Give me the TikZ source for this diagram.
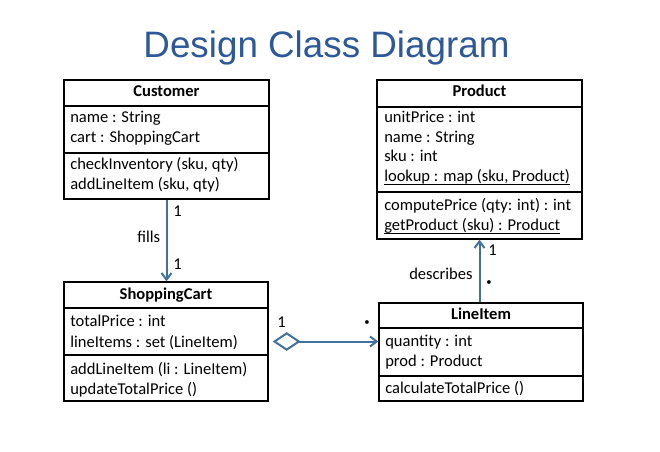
\documentclass[tikz,border=0pt]{standalone}
\usepackage{fontspec}
\setmainfont{Carlito}
\newfontfamily\titlefont{Liberation Sans}
\usetikzlibrary{arrows.meta,fit}
\definecolor{titleblue}{RGB}{45,89,152}
\definecolor{linkblue}{RGB}{65,113,156}
\newcommand\ulin[1]{\underline{\smash{#1}}}
\begin{document}
\begin{tikzpicture}[x=0.75pt,y=-0.75pt,
  classbox/.style={draw=black,line width=1pt,inner sep=0pt},
  divider/.style={draw=black,line width=1pt},
  txt/.style={inner sep=0pt,anchor=base west,font=\fontsize{12.4}{14}\selectfont},
  hdr/.style={inner sep=0pt,anchor=base,font=\fontsize{12.4}{14}\selectfont\bfseries},
  mult/.style={inner sep=0pt,anchor=base west,font=\fontsize{12.4}{14}\selectfont},
  dotmark/.style={inner sep=0pt,anchor=center,font=\fontsize{8}{10}\selectfont},
  link/.style={draw=linkblue,line width=1.5pt},
  tip/.style={-{Straight Barb[length=5pt,width=7.5pt]}}
]
\useasboundingbox[fill=white] (0,0) rectangle (660,452);

% title
\node[inner sep=0pt,anchor=base,text=titleblue,font=\titlefont\fontsize{27.6}{30}\selectfont] (title) at (326.5,58) {Design Class Diagram};

% Customer
\coordinate (c1) at (64,80); \coordinate (c2) at (269,199);
\node[classbox,fit=(c1)(c2)] (cust) {};
\draw[divider] (cust.west |- 0,106) -- (cust.east |- 0,106);
\draw[divider] (cust.west |- 0,153) -- (cust.east |- 0,153);
\node[hdr] (custh) at (166.5,97) {Customer};
\node[txt] (custa1) at (70,123) {name : String};
\node[txt] (custa2) at (70,143) {cart : ShoppingCart};
\node[txt] (custm1) at (70,170) {checkInventory (sku, qty)};
\node[txt] (custm2) at (70,190) {addLineItem (sku, qty)};

% Product
\coordinate (p1) at (377,80); \coordinate (p2) at (582,239);
\node[classbox,fit=(p1)(p2)] (prod) {};
\draw[divider] (prod.west |- 0,107) -- (prod.east |- 0,107);
\draw[divider] (prod.west |- 0,192) -- (prod.east |- 0,192);
\node[hdr] (prodh) at (479.5,97) {Product};
\node[txt] (proda1) at (384,123) {unitPrice : int};
\node[txt] (proda2) at (384,143) {name : String};
\node[txt] (proda3) at (384,162) {sku : int};
\node[txt] (proda4) at (384,182) {\ulin{lookup : map (sku, Product)}};
\node[txt] (prodm1) at (384,211) {computePrice (qty: int) : int};
\node[txt] (prodm2) at (384,231) {\ulin{getProduct (sku) : Product}};

% ShoppingCart
\coordinate (s1) at (64,282); \coordinate (s2) at (268,401);
\node[classbox,fit=(s1)(s2)] (sc) {};
\draw[divider] (sc.west |- 0,308) -- (sc.east |- 0,308);
\draw[divider] (sc.west |- 0,355) -- (sc.east |- 0,355);
\node[hdr] (sch) at (166,300) {ShoppingCart};
\node[txt] (sca1) at (70,326) {totalPrice : int};
\node[txt] (sca2) at (70,347) {lineItems : set (LineItem)};
\node[txt] (scm1) at (70,374) {addLineItem (li : LineItem)};
\node[txt] (scm2) at (70,394) {updateTotalPrice ()};

% LineItem
\coordinate (l1) at (379,303); \coordinate (l2) at (583,401);
\node[classbox,fit=(l1)(l2)] (li) {};
\draw[divider] (li.west |- 0,328) -- (li.east |- 0,328);
\draw[divider] (li.west |- 0,376) -- (li.east |- 0,376);
\node[hdr] (lih) at (481,320) {LineItem};
\node[txt] (lia1) at (385,346) {quantity : int};
\node[txt] (lia2) at (385,366) {prod : Product};
\node[txt] (lim1) at (385,393) {calculateTotalPrice ()};

% connectors
\draw[link,tip] (cust.south) -- (sc.north -| cust.south);
\draw[link,tip] (li.north -| prod.south) -- (prod.south);
\draw[link,{Diamond[open,length=21pt,width=14pt]}-{Straight Barb[length=5pt,width=7.5pt]},shorten <=3pt] (sc.east) -- (sc.east -| li.west);

% labels
\node[mult] (m1) at (173,217) {1};
\node[mult] (fills) at (137,243) {fills};
\node[mult] (m2) at (173,270) {1};
\node[mult] (desc) at (409,279) {describes};
\node[mult] (m3) at (488,256) {1};
\node[dotmark] (d1) at (489,283) {•};
\node[mult] (m4) at (277,327) {1};
\node[dotmark] (d2) at (367,323) {•};
\end{tikzpicture}
\end{document}
